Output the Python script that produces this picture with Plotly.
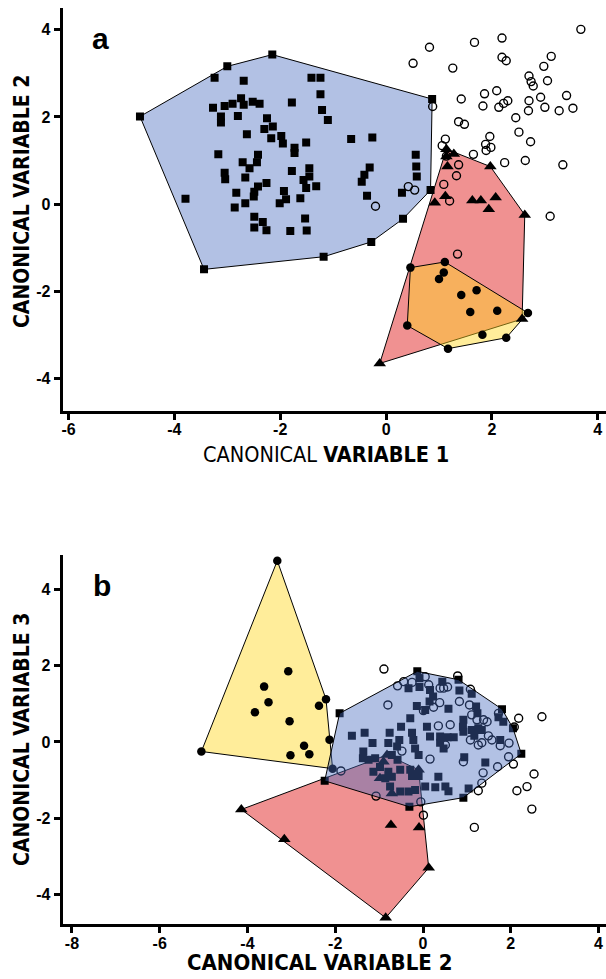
import plotly.graph_objects as go

# ---------------- Panel a data (Canonical variable 1 vs 2) ----------------
a_sq_x = [-4.65, -3.44, -3.79, -3.24, -3.00, -2.15, -2.69, -3.27, -3.05, -2.90, -2.74, -2.69, -2.52, -2.39,
          -3.12, -2.80, -3.12, -1.78, -2.25, -2.14, -2.30, -2.63, -2.17, -1.98, -1.95, -1.73, -1.73, -3.17,
          -2.42, -2.71, -2.58, -2.44, -3.05, -3.04, -2.66, -1.78, -2.26, -2.42, -2.49, -2.83, -2.50, -1.93,
          -1.89, -2.01, -2.66, -2.86, -2.49, -2.33, -2.49, -2.26, -1.81,
          -1.41, -1.24, -1.24, -1.21, -1.10, 0.87, -1.51, -0.66, -0.26, 0.56, 0.57, 0.58, -0.31, -0.41,
          -0.46, -1.45, -1.45, -1.56, -1.51, -1.32, -1.62, 0.30, 0.84, -0.36, -1.53, -1.50, 0.32, -0.28, -1.18]
a_sq_y = [2.01, -1.50, 0.12, 2.90, 3.16, 3.43, 2.83, 2.21, 2.25, 2.30, 2.43, 2.28, 2.35, 2.30,
          2.01, 2.02, 1.87, 2.33, 1.97, 1.78, 1.72, 1.60, 1.51, 1.56, 1.39, 1.29, 1.17, 1.14,
          1.13, 0.96, 0.82, 0.96, 0.72, 0.57, 0.61, 0.76, 0.48, 0.40, 0.28, 0.26, 0.17, 0.30,
          0.11, 0.02, 0.02, -0.08, -0.29, -0.41, -0.54, -0.60, -0.62,
          2.90, 2.90, 2.52, 2.16, 1.93, 2.41, 1.41, 1.49, 1.53, 1.13, 0.86, 0.63, 0.84, 0.67,
          0.51, 0.82, 0.63, 0.55, 0.37, 0.41, 0.13, 0.26, 0.32, 0.19, -0.33, -0.61, -0.34, -0.87, -1.21]

a_ci_x = [3.68, 0.82, 0.51, 1.26, 1.67, 2.19, 2.19, 2.27, 3.12, 2.98, 2.70, 2.74, 2.78, 3.05, 2.09, 1.86,
          1.42, 1.83, 2.13, 2.22, 2.30, 2.70, 2.69, 2.92, 3.00, 3.41, 3.27, 3.53, 2.45, 0.88, 1.37, 1.48,
          2.51, 2.73, 1.96, 1.88, 1.98, 1.89, 1.12, 1.06, 1.65, 2.24, 2.63, 3.34, 1.14, 1.37, 1.33, 1.09,
          0.42, 0.54, 1.20, -0.20, 3.10, 1.35]
a_ci_y = [4.01, 3.60, 3.23, 3.12, 3.71, 3.81, 3.37, 3.29, 3.39, 3.16, 2.94, 2.81, 2.71, 2.83, 2.60, 2.53,
          2.41, 2.25, 2.22, 2.31, 2.37, 2.37, 2.14, 2.45, 2.22, 2.49, 2.14, 2.20, 1.98, 2.24, 1.89, 1.83,
          1.65, 1.43, 1.55, 1.37, 1.30, 1.23, 1.49, 1.34, 1.14, 0.95, 1.00, 0.90, 1.10, 0.90, 0.65, 0.45,
          0.40, 0.32, 0.07, -0.05, -0.28, -1.15]

a_tr_x = [1.14, 1.28, 1.14, 1.16, 1.97, 0.92, 1.12, 1.63, 1.79, 2.07, 1.94, 2.62, -0.12, 2.57]
a_tr_y = [1.26, 1.15, 1.09, 0.86, 0.86, 0.03, 0.18, 0.08, 0.08, 0.15, -0.12, -0.25, -3.66, -2.64]

a_dot_x = [0.46, 1.11, 1.09, 1.00, 1.42, 1.71, 1.59, 2.10, 2.68, 0.40, 1.82, 2.27, 1.17]
a_dot_y = [-1.46, -1.33, -1.57, -1.72, -2.09, -1.98, -2.48, -2.45, -2.50, -2.79, -3.00, -3.07, -3.32]

# ---------------- Panel b data (Canonical variable 2 vs 3) ----------------
b_sq_x = [-1.90, -1.62, -1.33, -1.15, -0.76, -0.79, -0.50, -0.29, -0.25, -0.22, -0.54, -0.59, -0.18, -0.10,
          0.09, 0.16, -0.14, -1.36, -1.37, -1.24, -1.09, -0.71, -0.58, -1.13, -0.98, -0.79, -0.52,
          -0.29, -0.25, -0.10, -0.75, -0.52, -0.33, -0.18, 0.05, 0.28, -0.31, -0.86, -2.24, -0.71,
          -0.13, -0.33, -0.08, -0.08, 0.16, 0.23, 0.15, 0.44, 0.81, 0.83, 1.11, 0.05, 0.58, 1.21, 1.24,
          0.39, 0.56, 0.70, 0.39, 0.47, 0.92, 0.91, 0.92, 1.11, 1.26, 1.34, 1.17, 1.80, 1.72, 1.83,
          2.05, 2.24, 1.76, 1.42, 0.94, 0.35, 0.51, 0.58, 1.04, 0.92]
b_sq_y = [0.75, 0.16, 0.24, -0.03, 0.24, -0.03, 0.40, 0.62, 0.24, 0.05, 0.05, -0.12, -0.17, -0.34,
          0.40, 0.14, 0.94, -0.25, -0.43, -0.47, -0.43, -0.34, -0.47, -0.78, -0.66, -0.78, -0.73,
          -0.73, -0.89, -0.89, -1.17, -1.30, -1.30, -1.26, -1.17, -1.19, -1.70, -0.95, -1.02, -0.91,
          1.85, 1.41, 1.44, 1.67, 1.36, 1.19, 1.06, 1.58, 1.63, 1.35, 1.26, 0.84, 0.87, 0.93, 0.75,
          0.14, 0.12, 0.12, -0.02, -0.17, 0.58, 0.40, 0.27, 0.31, 0.36, 0.31, 0.16, 0.86, 0.65, 0.53,
          0.36, -0.31, 0.05, -0.54, -0.40, -0.91, -1.17, -1.29, -1.22, -1.46]

b_ci_x = [0.79, -0.44, -0.25, -0.58, 0.05, 0.13, 0.39, 0.47, 0.56, 1.08, 0.38, 0.24, 0.83, 1.06, 1.11,
          1.23, 1.38, 1.46, 1.72, 2.18, 2.08, 2.71, 0.35, 0.62, 0.51, 1.08, 1.26, 1.34, 1.49, 1.57,
          1.76, 1.96, 1.95, 2.06, 1.70, 1.37, 1.34, 1.26, 0.92, 0.16, -0.05, 2.53, 2.14, 2.37, 2.48,
          -0.89, -0.80, 0.01, -0.48, -1.87, -1.07, 0.01, 1.17]
b_ci_y = [1.73, 1.58, 1.56, 1.47, 1.71, 1.50, 1.41, 1.41, 1.44, 1.38, 1.03, 0.91, 1.06, 0.97, 0.71,
          0.58, 0.58, 0.53, 0.75, 0.62, 0.39, 0.66, 0.42, 0.45, -0.08, 0.05, -0.08, -0.02, 0.16, 0.05,
          -0.10, -0.03, -0.39, -0.58, -0.65, -0.81, -1.08, -1.28, -0.52, -0.45, -1.57, -0.84, -1.28, -1.17, -1.76,
          1.91, 0.97, 0.82, -0.24, -0.76, -1.42, -1.92, -2.24]

b_tr_x = [-4.14, -3.16, -0.85, 0.13, -0.73, -0.09, -0.82, -0.98, -0.71, -0.10, -0.90]
b_tr_y = [-1.77, -2.55, -4.61, -3.30, -2.18, -2.24, -0.34, -0.95, -1.35, -0.73, -0.52]

b_dot_x = [-3.32, -5.05, -3.07, -3.62, -3.52, -3.83, -3.04, -3.02, -2.21, -2.37, -2.13, -2.71, -2.59, -2.06]
b_dot_y = [4.75, -0.25, 1.85, 1.45, 1.04, 0.78, 0.54, -0.35, 1.12, 0.95, 0.06, -0.10, -0.32, -0.70]

a_ticks = [-6, -4, -2, 0, 2, 4]
a_yticks = [-4, -2, 0, 2, 4]
b_ticks = [-8, -6, -4, -2, 0, 2, 4]
b_yticks = [-4, -2, 0, 2, 4]

BLUE = "rgba(71,107,190,0.42)"
RED = "rgba(225,35,35,0.5)"
YELLOW = "rgba(255,215,30,0.45)"
TITLE_FONT = "DejaVu Sans Condensed, Liberation Sans, sans-serif"
TICK_FONT = "Liberation Sans, Arial, sans-serif"


def hull(xs, ys):
    pts = sorted(set(zip(xs, ys)))

    def cross(o, a, b):
        return (a[0] - o[0]) * (b[1] - o[1]) - (a[1] - o[1]) * (b[0] - o[0])

    lower = []
    for p in pts:
        while len(lower) >= 2 and cross(lower[-2], lower[-1], p) <= 0:
            lower.pop()
        lower.append(p)
    upper = []
    for p in reversed(pts):
        while len(upper) >= 2 and cross(upper[-2], upper[-1], p) <= 0:
            upper.pop()
        upper.append(p)
    h = lower[:-1] + upper[:-1]
    h.append(h[0])
    return [p[0] for p in h], [p[1] for p in h]


def poly(xs, ys, color, xa, ya):
    hx, hy = hull(xs, ys)
    return go.Scatter(x=hx, y=hy, mode="lines", fill="toself", fillcolor=color,
                      line=dict(color="black", width=1), xaxis=xa, yaxis=ya,
                      hoverinfo="skip", showlegend=False)


def pts(xs, ys, symbol, size, xa, ya, open_=False):
    if open_:
        m = dict(symbol=symbol, size=size, color="black", line=dict(color="black", width=1.4))
    else:
        m = dict(symbol=symbol, size=size, color="black", line=dict(width=0))
    return go.Scatter(x=xs, y=ys, mode="markers", marker=m, xaxis=xa, yaxis=ya, showlegend=False)


fig = go.Figure()
# panel a: fills under markers
fig.add_trace(poly(a_sq_x, a_sq_y, BLUE, "x", "y"))
fig.add_trace(poly(a_tr_x, a_tr_y, RED, "x", "y"))
fig.add_trace(poly(a_dot_x, a_dot_y, YELLOW, "x", "y"))
fig.add_trace(pts(a_sq_x, a_sq_y, "square", 8, "x", "y"))
fig.add_trace(pts(a_ci_x, a_ci_y, "circle-open", 8, "x", "y", open_=True))
fig.add_trace(pts(a_tr_x, a_tr_y, "triangle-up", 11, "x", "y"))
fig.add_trace(pts(a_dot_x, a_dot_y, "circle", 8.5, "x", "y"))

# panel b: red & yellow under markers, blue over markers
fig.add_trace(poly(b_tr_x, b_tr_y, RED, "x2", "y2"))
fig.add_trace(poly(b_dot_x, b_dot_y, YELLOW, "x2", "y2"))
fig.add_trace(pts(b_sq_x, b_sq_y, "square", 8, "x2", "y2"))
fig.add_trace(pts(b_ci_x, b_ci_y, "circle-open", 8, "x2", "y2", open_=True))
fig.add_trace(pts(b_tr_x, b_tr_y, "triangle-up", 11, "x2", "y2"))
fig.add_trace(pts(b_dot_x, b_dot_y, "circle", 8.5, "x2", "y2"))
fig.add_trace(poly(b_sq_x, b_sq_y, BLUE, "x2", "y2"))

W, H = 606, 979
axis_common = dict(showline=True, linecolor="black", linewidth=3, ticks="outside", ticklen=6,
                   tickwidth=3, tickcolor="black", showgrid=False, zeroline=False,
                   tickfont=dict(family=TICK_FONT, size=16, color="black"))


def bold_labels(vals):
    return ["<b>%d</b>" % v for v in vals]


fig.update_layout(
    width=W, height=H, margin=dict(l=0, r=0, t=0, b=0),
    paper_bgcolor="white", plot_bgcolor="white",
    xaxis=dict(domain=[62.7 / W, 1], range=[-6.11, 4.155], tickvals=a_ticks, ticktext=bold_labels(a_ticks),
               anchor="y", ticklabelstandoff=-4, **axis_common),
    yaxis=dict(domain=[1 - 410.5 / H, 1 - 8 / H], range=[-4.74, 4.5], tickvals=a_yticks,
               ticktext=bold_labels(a_yticks), anchor="x", **axis_common),
    xaxis2=dict(domain=[62.7 / W, 1], range=[-8.21, 4.17], tickvals=b_ticks, ticktext=bold_labels(b_ticks),
                anchor="y2", ticklabelstandoff=-4, **axis_common),
    yaxis2=dict(domain=[1 - 924.3 / H, 1 - 555 / H], range=[-4.78, 4.9], tickvals=b_yticks,
                ticktext=bold_labels(b_yticks), anchor="x2", **axis_common),
)

ann = [
    dict(text="<b>a</b>", x=100 / W, y=1 - 38 / H, font=dict(size=30, family=TICK_FONT)),
    dict(text="<b>b</b>", x=102 / W, y=1 - 585 / H, font=dict(size=30, family=TICK_FONT)),
    dict(text="CANONICAL <b>VARIABLE 1</b>", x=326 / W, y=1 - 454 / H, font=dict(size=21.5, family=TITLE_FONT)),
    dict(text="<b>CANONICAL VARIABLE 2</b>", x=22 / W, y=1 - 202 / H, font=dict(size=21, family=TITLE_FONT),
         textangle=-90),
    dict(text="<b>CANONICAL VARIABLE 2</b>", x=319 / W, y=1 - 962 / H, font=dict(size=22, family=TITLE_FONT)),
    dict(text="<b>CANONICAL VARIABLE 3</b>", x=22 / W, y=1 - 740 / H, font=dict(size=21, family=TITLE_FONT),
         textangle=-90),
]
for a in ann:
    a.update(xref="paper", yref="paper", showarrow=False, xanchor="center", yanchor="middle")
    a["font"].update(color="black")
    fig.add_annotation(**a)

fig.write_html("out.html", config={"displayModeBar": False},
               post_script="document.body.style.margin='0px';")
